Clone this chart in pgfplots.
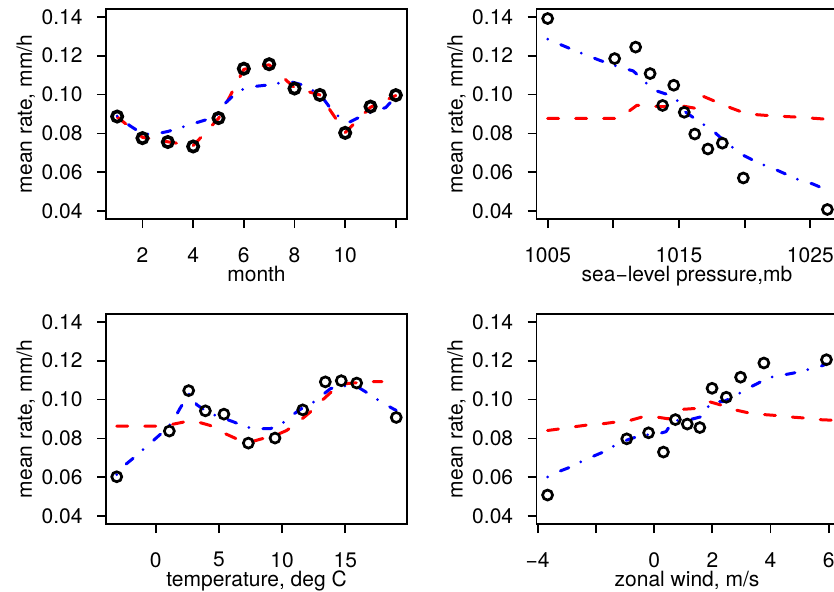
\documentclass[border=0pt]{standalone}
\usepackage{fontspec}
\setmainfont{TeX Gyre Heros}
\usepackage{pgfplots}
\pgfplotsset{compat=1.18}
\definecolor{rred}{RGB}{255,0,0}
\definecolor{rblue}{RGB}{0,0,255}
\pgfplotsset{
  rstyle/.style={
    width=150.5pt, height=105pt, scale only axis, anchor=south west,
    clip=false,
    axis line style={line width=0.9pt},
    every tick/.style={black, line width=0.9pt},
    tick align=outside, major tick length=4.5pt,
    xtick pos=left, ytick pos=left,
    scaled ticks=false,
    ymin=0.036, ymax=0.144,
    ytick={0.04,0.06,0.08,0.10,0.12,0.14},
    yticklabels={0.04,0.06,0.08,0.10,0.12,0.14},
    yticklabel style={inner sep=0pt, xshift=-7pt},
    xticklabel style={inner sep=0pt, yshift=-9.5pt},
    ylabel={mean rate, mm/h},
    ylabel style={at={([xshift=-37pt]axis description cs:0,0.5)}, anchor=base},
    xlabel style={at={([yshift=-31pt]axis description cs:0.5,0)}, anchor=base},
  },
  pts/.style={only marks, mark=o, mark size=2.5pt, mark options={line width=1.35pt, black}, black},
  redl/.style={no marks, rred, line width=1.5pt, line cap=round, line join=round, dash pattern=on 5.5pt off 8.5pt},
  bluel/.style={no marks, rblue, line width=1.5pt, line cap=round, line join=round, dash pattern=on 0pt off 7.1pt on 4.5pt off 6.6pt},
}
\begin{document}
\fontsize{10.5pt}{12.6pt}\selectfont
\begin{tikzpicture}
\useasboundingbox (0,0) rectangle (417pt,295.5pt);
\clip (0,0) rectangle (417pt,295.5pt);
% Panel 1: month
\begin{axis}[rstyle, at={(53pt,186pt)},
  xmin=0.56, xmax=12.44,
  xtick={2,4,6,8,10,12}, xticklabels={2,4,6,8,10,{}},
  xlabel={month}]
\addplot[pts, mark size=2.6pt, mark options={line width=1.8pt, black}] coordinates {
(1,0.0887) (2,0.0776) (3,0.0756) (4,0.0733) (5,0.0879) (6,0.1133)
(7,0.1156) (8,0.1031) (9,0.0998) (10,0.0803) (11,0.0938) (12,0.0997)};
\addplot[redl] coordinates {
(1,0.0885) (2,0.0780) (3,0.0757) (4,0.0737) (5,0.0877) (6,0.1130)
(7,0.1153) (8,0.1035) (9,0.0998) (10,0.0805) (11,0.0935) (12,0.0995)};
\addplot[bluel] coordinates {
(1,0.0890) (1.5,0.0840) (2,0.0798) (2.5,0.0797) (3,0.0810) (3.5,0.0830)
(4,0.0850) (4.5,0.0870) (5,0.0900) (5.3,0.0960) (5.8,0.1020) (6.3,0.1040)
(7,0.1050) (7.8,0.1068) (8.3,0.1050) (9,0.1003) (9.5,0.0915) (10,0.0858)
(10.2,0.0860) (10.6,0.0886) (11.1,0.0913) (11.6,0.0933) (12,0.0990)};
\end{axis}
% Panel 2: sea-level pressure
\begin{axis}[rstyle, at={(268.25pt,186pt)},
  xmin=1004.15, xmax=1027.07,
  xtick={1005,1010,1015,1020,1025}, xticklabels={1005,{},1015,{},1025},
  xlabel={sea−level pressure,mb}]
\addplot[pts] coordinates {
(1005.0,0.1391) (1010.1,0.1185) (1011.7,0.1244) (1012.8,0.1108)
(1013.75,0.0944) (1014.6,0.1048) (1015.4,0.0909) (1016.2,0.0797)
(1017.2,0.0720) (1018.3,0.0750) (1019.9,0.0571) (1026.3,0.0409)};
\addplot[redl] coordinates {
(1005,0.0877) (1010.2,0.0877) (1011,0.0905) (1011.8,0.0945) (1012.5,0.0940)
(1014,0.0938) (1015.2,0.0942) (1016.2,0.0930) (1016.7,0.0995) (1018,0.0958)
(1019,0.0930) (1020,0.0905) (1021,0.0896) (1022,0.0891) (1024,0.0884)
(1026.3,0.0873)};
\addplot[bluel] coordinates {
(1005,0.1285) (1007,0.1228) (1009,0.1175) (1010.5,0.1140) (1011.5,0.1122)
(1012.2,0.1080) (1013,0.1025) (1014,0.1003) (1014.8,0.0975) (1015.5,0.0910)
(1016.5,0.0862) (1017.5,0.0819) (1018.5,0.0758) (1019.8,0.0691) (1021,0.0650)
(1022.5,0.0610) (1024,0.0565) (1025.2,0.0540) (1026.3,0.0508)};
\end{axis}
% Panel 3: temperature
\begin{axis}[rstyle, at={(53pt,33.5pt)},
  xmin=-3.93, xmax=19.88,
  xtick={0,5,10,15}, xticklabels={0,5,10,15},
  xlabel={temperature, deg C}]
\addplot[pts] coordinates {
(-3.08,0.0603) (1.08,0.0838) (2.61,0.1046) (3.93,0.0942) (5.40,0.0925)
(7.33,0.0776) (9.44,0.0802) (11.63,0.0947) (13.42,0.1091) (14.68,0.1097)
(15.90,0.1085) (19.03,0.0908)};
\addplot[redl] coordinates {
(-3.08,0.0863) (-0.05,0.0863) (1.27,0.0872) (2.19,0.0884) (3.37,0.0884)
(4.30,0.0867) (5.35,0.0829) (6.4,0.0798) (7.46,0.0781) (8.38,0.0798)
(9.44,0.0815) (10.36,0.0841) (11.42,0.0892) (12.21,0.0935) (13.0,0.0986)
(13.8,0.1034) (14.71,0.1080) (15.63,0.1085) (16.82,0.1092) (17.9,0.1092)};
\addplot[bluel] coordinates {
(-3.08,0.0614) (-2.4,0.0665) (-1.5,0.0713) (-0.84,0.0752) (0,0.0800)
(0.87,0.0850) (1.4,0.0892) (1.9,0.0952) (2.6,0.1025) (2.75,0.1035)
(3.24,0.0974) (4.17,0.0932) (5.09,0.0910) (6.09,0.0887) (7.2,0.0858)
(8.0,0.0850) (9.04,0.0850) (9.83,0.0867) (10.76,0.0918) (11.5,0.0952)
(12.47,0.0986) (13.8,0.1055) (14.4,0.1070) (15.5,0.1070) (16.03,0.1063)
(17.0,0.1024) (17.87,0.0986) (18.8,0.0952) (19.03,0.0944)};
\end{axis}
% Panel 4: zonal wind
\begin{axis}[rstyle, at={(268.25pt,33.5pt)},
  xmin=-4.04, xmax=6.30,
  xtick={-4,-2,0,2,4,6}, xticklabels={−4,{},0,2,4,6},
  xlabel={zonal wind, m/s}]
\addplot[pts] coordinates {
(-3.66,0.0509) (-0.94,0.0798) (-0.19,0.0829) (0.32,0.0730) (0.73,0.0897)
(1.14,0.0874) (1.57,0.0856) (1.99,0.1058) (2.48,0.1012) (2.97,0.1115)
(3.77,0.1188) (5.92,0.1205)};
\addplot[redl] coordinates {
(-3.66,0.0841) (-3.2,0.0850) (-2.7,0.0861) (-2.25,0.0870) (-1.79,0.0875)
(-1.34,0.0884) (-0.82,0.0893) (-0.42,0.0910) (0.09,0.0910) (0.49,0.0901)
(1.0,0.0950) (1.4,0.0954) (1.92,0.0988) (2.32,0.0971) (2.78,0.0947)
(3.23,0.0932) (3.75,0.0923) (4.21,0.0918) (4.72,0.0910) (5.18,0.0905)
(5.63,0.0897) (6.09,0.0894)};
\addplot[bluel] coordinates {
(-3.66,0.0602) (-3.22,0.0633) (-2.82,0.0656) (-2.45,0.0685) (-2.02,0.0713)
(-1.62,0.0738) (-1.26,0.0773) (-0.82,0.0798) (-0.37,0.0819) (0.03,0.0819)
(0.41,0.0835) (0.66,0.0892) (1.18,0.0895) (1.63,0.0912) (1.98,0.0990)
(2.38,0.0990) (2.72,0.1012) (3.12,0.1051) (3.52,0.1080) (3.92,0.1113)
(4.34,0.1124) (4.78,0.1136) (5.23,0.1153) (5.63,0.1166) (5.92,0.1183)};
\end{axis}
\end{tikzpicture}
\end{document}
